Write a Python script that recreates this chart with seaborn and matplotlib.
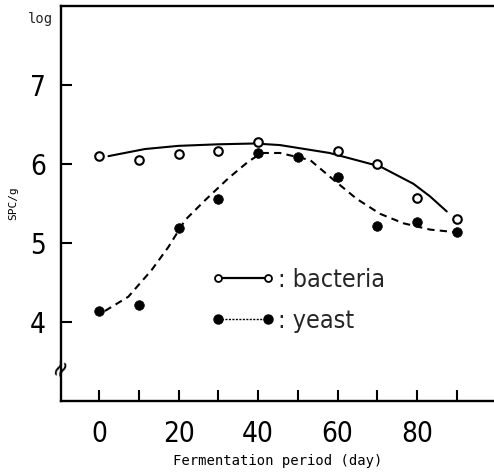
import matplotlib
matplotlib.use("Agg")
import matplotlib.pyplot as plt
from matplotlib import font_manager as fm
from matplotlib.lines import Line2D
import seaborn as sns
import pandas as pd

# measured counts (log SPC/g)
bact_days = [0, 10, 20, 30, 40, 60, 70, 80, 90]
bacteria = [6.10, 6.05, 6.13, 6.16, 6.28, 6.16, 6.00, 5.57, 5.30]
yeast_days = [0, 10, 20, 30, 40, 50, 60, 70, 80, 90]
yeast = [4.14, 4.21, 5.19, 5.56, 6.14, 6.09, 5.83, 5.22, 5.27, 5.14]

# hand-drawn trend curves
bact_curve_days = [2.3, 11.5, 19.9, 30, 39.2, 45.5, 58, 70.7, 79.1, 83.3, 87.5]
bact_curve = [6.10, 6.19, 6.23, 6.25, 6.26, 6.24, 6.14, 5.97, 5.75, 5.59, 5.40]
yeast_curve_days = [1.4, 7.3, 13.2, 17.4, 21.6, 26.6, 32.5, 37.5, 40.9, 45.5,
                    53.1, 59, 64.8, 70.7, 76.6, 83.3, 89.2]
yeast_curve = [4.14, 4.32, 4.66, 4.95, 5.29, 5.54, 5.82, 6.03, 6.14, 6.14,
               6.05, 5.80, 5.56, 5.37, 5.25, 5.17, 5.14]

x_ticks = [0, 20, 40, 60, 80]
y_ticks = [4, 5, 6, 7]

sns.set_theme(style="ticks")
plt.rcParams["font.family"] = ["DejaVu Sans"]


# look for a narrow sans face (the scan uses a condensed typeface)
def narrow_font():
    fonts = fm.fontManager.ttflist
    for f in fonts:
        if f.name == "Liberation Sans Narrow" and f.style == "normal" and f.weight in (400, "normal", "regular"):
            return fm.FontProperties(fname=f.fname)
    for f in fonts:
        if f.name == "DejaVu Sans" and "condensed" in str(f.stretch) and f.style == "normal" \
                and f.weight in (400, "normal", "regular"):
            return fm.FontProperties(fname=f.fname)
    for f in fonts:
        if "Condensed" in f.fname and f.style == "normal":
            return fm.FontProperties(fname=f.fname)
    return fm.FontProperties(family="Liberation Sans")


nprop = narrow_font()
mono = ["DejaVu Sans Mono"]

fig = plt.figure(figsize=(4.94, 4.73), dpi=100)
ax = fig.add_axes([0.1235, 0.1522, 0.8765, 0.835])

bc = pd.DataFrame({"day": bact_curve_days, "v": bact_curve})
yc = pd.DataFrame({"day": yeast_curve_days, "v": yeast_curve})
sns.lineplot(data=bc, x="day", y="v", sort=False, estimator=None,
             color="black", lw=1.5, ax=ax)
sns.lineplot(data=yc, x="day", y="v", sort=False, estimator=None,
             color="black", lw=1.5, ax=ax, linestyle=(0, (3.5, 2.5)))

sns.scatterplot(x=bact_days, y=bacteria, ax=ax, marker="o", s=38,
                facecolor="white", edgecolor="black", linewidth=1.5, zorder=3)
sns.scatterplot(x=yeast_days, y=yeast, ax=ax, marker="o", s=48,
                color="black", edgecolor="black", linewidth=0.5, zorder=3)

ax.set_xlim(-9.65, 99.4)
ax.set_ylim(3, 8)
ax.set_xticks(range(0, 100, 10))
ax.set_xticklabels([str(t) if t in x_ticks else "" for t in range(0, 100, 10)])
ax.set_yticks(y_ticks)
ax.tick_params(direction="in", length=8, width=1.5, color="black",
               labelcolor="black")
ax.tick_params(axis="x", pad=14)
ax.tick_params(axis="y", pad=11)
for lab in ax.get_xticklabels() + ax.get_yticklabels():
    lab.set_fontproperties(nprop)
    lab.set_fontsize(20)
for s in ["left", "bottom", "top"]:
    ax.spines[s].set_linewidth(1.7)
    ax.spines[s].set_color("black")
ax.spines["right"].set_visible(False)

ax.set_xlabel("Fermentation period (day)", family=mono, fontsize=10,
              color="black", labelpad=4)
ax.set_ylabel("SPC/g", family=mono, fontsize=8, color="black")
ax.yaxis.set_label_coords(-0.098, 0.5)
fig.text(0.081, 0.96, "log", family=mono, fontsize=10,
         ha="center", va="center")

# axis break
ax.text(0, 0.085, "≈", transform=ax.transAxes, ha="center", va="center",
        fontsize=17, rotation=65, family="DejaVu Sans", color="black")

handles = [
    Line2D([], [], color="black", lw=1.6, marker="o", ms=5, mfc="white",
           mec="black", mew=1.3),
    Line2D([], [], color="black", lw=1.0, ls=(0, (1.5, 1)), marker="o", ms=6.5,
           mfc="black", mec="black"),
]
lprop = nprop.copy()
lprop.set_size(18)
ax.legend(handles, [": bacteria", ": yeast"], loc="upper left",
          bbox_to_anchor=(0.346, 0.338), frameon=False, numpoints=2,
          prop=lprop, handlelength=2.6, handletextpad=0.1,
          labelspacing=0.7, borderpad=0, borderaxespad=0)

fig.savefig("out.png", dpi=100, facecolor="white")
